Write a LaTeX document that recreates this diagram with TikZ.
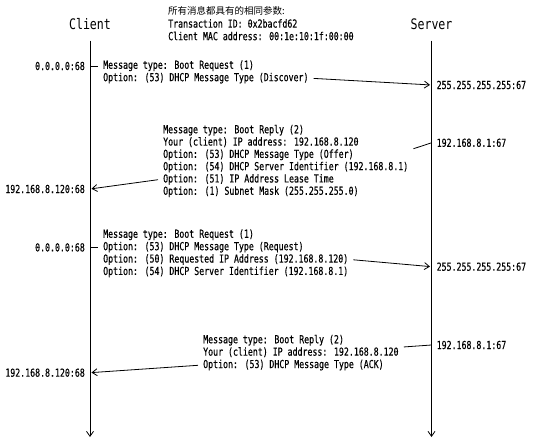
\documentclass[tikz,border=0pt]{standalone}
\usepackage{fontspec}
\usepackage{tikz}
\usetikzlibrary{arrows.meta}
\newfontfamily\pktfont[FakeStretch=0.75,FakeBold=0.4]{DejaVu Sans Mono}
\newfontfamily\rolefont[FakeStretch=0.8]{DejaVu Sans Mono}
\newfontfamily\cjkfont{Noto Sans CJK SC}

\begin{document}
\begin{tikzpicture}[x=1pt,y=-1pt,
        >={Straight Barb[length=5pt,width=7pt]},
        every node/.style={font=\pktfont\fontsize{11}{13}\selectfont},
        role/.style={font=\rolefont\fontsize{14.5}{16}\selectfont},
        msgline/.style={anchor=west,inner xsep=5pt,inner ysep=1pt,text height=7.5pt,text depth=2pt},
        srvaddr/.style={anchor=west,inner xsep=5pt},
        cliaddr/.style={anchor=east,inner xsep=5pt},
        lifeline/.style={->,line width=0.8pt},
        link/.style={line width=0.8pt},
        pkt/.style={->,line width=0.8pt,shorten >=1.5pt}]

    \useasboundingbox (0,0) rectangle (533,442);

    % roles and lifelines
    \node[role] (client) at (90,24) {Client};
    \node[role] (server) at (431.5,24) {Server};
    \coordinate (client-top) at (90,40.7);
    \coordinate (client-end) at (90,437);
    \coordinate (server-top) at (431.5,40.7);
    \coordinate (server-end) at (431.5,437);
    \draw[lifeline] (client-top) -- (client-end);
    \draw[lifeline] (server-top) -- (server-end);

    % common parameters
    \node[anchor=west,inner sep=0pt,font=\cjkfont\fontsize{9.5}{11}\selectfont] (note-1) at (168,11) {所有消息都具有的相同参数:};
    \node[anchor=west,inner sep=0pt] (note-2) at (168,23.5) {Transaction ID: 0x2bacfd62};
    \node[anchor=west,inner sep=0pt] (note-3) at (168,36) {Client MAC address: 00:1e:10:1f:00:00};

    % discover
    \node[cliaddr] (discover-src) at (90,66) {0.0.0.0:68};
    \foreach \txt [count=\i] in {{Message type: Boot Request (1)},
                                 {Option: (53) DHCP Message Type (Discover)}}
        \node[msgline] (discover-\i) at (98,{66+12.4*(\i-1)}) {\txt};
    \node[srvaddr] (discover-dst) at (431.5,85) {255.255.255.255:67};
    \draw[link] (discover-src.east) -- (discover-1.west);
    \draw[pkt] (discover-2.east) -- (discover-dst.west);

    % offer
    \node[srvaddr] (offer-src) at (431.5,142.8) {192.168.8.1:67};
    \foreach \txt [count=\i] in {{Message type: Boot Reply (2)},
                                 {Your (client) IP address: 192.168.8.120},
                                 {Option: (53) DHCP Message Type (Offer)},
                                 {Option: (54) DHCP Server Identifier (192.168.8.1)},
                                 {Option: (51) IP Address Lease Time},
                                 {Option: (1) Subnet Mask (255.255.255.0)}}
        \node[msgline] (offer-\i) at (158,{130.5+12.3*(\i-1)}) {\txt};
    \node[cliaddr] (offer-dst) at (90,189) {192.168.8.120:68};
    \draw[link] (offer-src.west) -- (offer-4.east |- offer-2.south);
    \draw[pkt] (offer-5.west) -- (offer-dst.east);

    % request
    \node[cliaddr] (request-src) at (90,247.4) {0.0.0.0:68};
    \foreach \txt [count=\i] in {{Message type: Boot Request (1)},
                                 {Option: (53) DHCP Message Type (Request)},
                                 {Option: (50) Requested IP Address (192.168.8.120)},
                                 {Option: (54) DHCP Server Identifier (192.168.8.1)}}
        \node[msgline] (request-\i) at (98,{235+12.4*(\i-1)}) {\txt};
    \node[srvaddr] (request-dst) at (431.5,266.7) {255.255.255.255:67};
    \draw[link] (request-src.east) -- (request-2.west);
    \draw[pkt] (request-3.east) -- (request-dst.west);

    % ack
    \node[srvaddr] (ack-src) at (431.5,345) {192.168.8.1:67};
    \foreach \txt [count=\i] in {{Message type: Boot Reply (2)},
                                 {Your (client) IP address: 192.168.8.120},
                                 {Option: (53) DHCP Message Type (ACK)}}
        \node[msgline] (ack-\i) at (198,{340.5+12.4*(\i-1)}) {\txt};
    \node[cliaddr] (ack-dst) at (90,372.7) {192.168.8.120:68};
    \draw[link] (ack-src.west) -- (ack-2.north east);
    \draw[pkt] (ack-3.west) -- (ack-dst.east);
\end{tikzpicture}
\end{document}
